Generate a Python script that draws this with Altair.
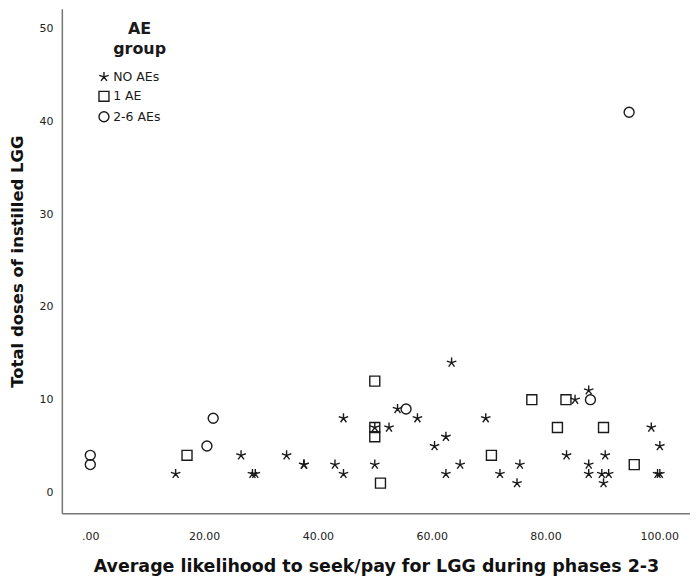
import altair as alt
import pandas as pd

# ---- data ----
none_x = [15, 26.5, 28.5, 29, 34.5, 37.5, 37.6, 43, 44.5, 44.5, 50, 50, 52.5, 54, 57.5,
          60.5, 62.5, 62.5, 63.5, 65, 69.5, 72, 75, 75.5, 83.7, 85.2, 87.6, 87.6, 87.6,
          90.2, 89.9, 91.1, 90.5, 98.6, 100.1, 99.7, 100.1]
none_y = [2, 4, 2, 2, 4, 3, 3, 3, 8, 2, 3, 7, 7, 9, 8,
          5, 6, 2, 14, 3, 8, 2, 1, 3, 4, 10, 11, 3, 2,
          1, 2, 2, 4, 7, 5, 2, 2]

one_x = [17, 50, 50, 50, 51, 70.5, 77.6, 82.1, 83.6, 90.2, 95.6]
one_y = [4, 12, 7, 6, 1, 4, 10, 7, 10, 7, 3]

multi_x = [0, 0, 21.6, 20.5, 55.5, 87.9, 94.7]
multi_y = [4, 3, 8, 5, 9, 10, 41]

groups = ["NO AEs", "1 AE", "2-6 AEs"]
x_ticks = [0, 20, 40, 60, 80, 100]
y_ticks = [0, 10, 20, 30, 40, 50]

rows = []
for g, xs, ys in [(groups[0], none_x, none_y), (groups[1], one_x, one_y), (groups[2], multi_x, multi_y)]:
    for a, b in zip(xs, ys):
        rows.append({"x": a, "y": b, "group": g})
df = pd.DataFrame(rows)

FONT = "DejaVu Sans"
INK = "#1a1a1a"
STAR = "M0,-1L0,0M0.95,-0.31L0,0M0.59,0.81L0,0M-0.59,0.81L0,0M-0.95,-0.31L0,0"

points = alt.Chart(df).mark_point(filled=False, size=100, strokeWidth=1.4, color=INK, opacity=1).encode(
    x=alt.X("x:Q", scale=alt.Scale(domain=[-5, 105.4], nice=False, zero=False),
            axis=alt.Axis(values=x_ticks, title="Average likelihood to seek/pay for LGG during phases 2-3",
                          labelExpr="datum.value == 0 ? '.00' : format(datum.value, '.2f')",
                          ticks=False, grid=False, labelPadding=17, titlePadding=16)),
    y=alt.Y("y:Q", scale=alt.Scale(domain=[-2.26, 52.15], nice=False, zero=False),
            axis=alt.Axis(values=y_ticks, title="Total doses of instilled LGG", ticks=False, grid=False,
                          labelPadding=9, titlePadding=13, titleFontSize=16.5)),
    shape=alt.Shape("group:N", scale=alt.Scale(domain=groups, range=[STAR, "square", "circle"]),
                    legend=alt.Legend(orient="none", legendX=36, legendY=62, title=None,
                                      symbolSize=100, symbolStrokeColor=INK, symbolFillColor="transparent",
                                      symbolStrokeWidth=1.4, labelFontSize=12.5, labelFont=FONT,
                                      labelColor=INK, labelOffset=3, rowPadding=3.5, padding=0)),
)

title_df = pd.DataFrame({"t": ["AE", "group"], "py": [25, 45]})
legend_title = alt.Chart(title_df).mark_text(font=FONT, fontSize=16, fontWeight="bold", color=INK,
                                             align="center", baseline="alphabetic").encode(
    x=alt.value(78), y=alt.Y("py:Q", scale=None), text="t:N")

chart = alt.layer(points, legend_title).properties(
    width=630, height=506,
    padding={"left": 54, "top": 0, "right": 0, "bottom": 70},
    autosize=alt.AutoSizeParams(type="none"),
    background="white",
).configure_view(stroke=None).configure_axis(
    domainColor="#777777", domainWidth=1.5, labelFont=FONT, labelFontSize=11, labelColor="#222222",
    titleFont=FONT, titleFontSize=17.5, titleFontWeight="bold", titleColor="#111111",
)

chart.save("out.html", embed_options={"renderer": "svg", "actions": False})
